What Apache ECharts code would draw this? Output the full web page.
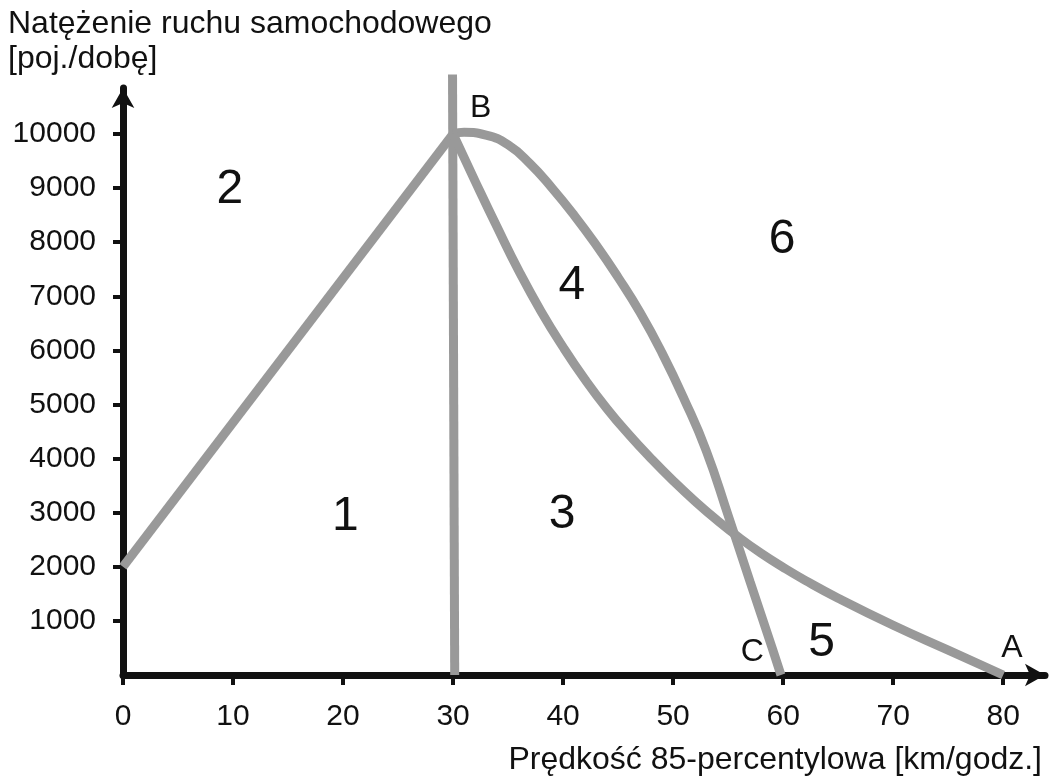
<!DOCTYPE html>
<html>
<head>
<meta charset="utf-8">
<script src="https://cdn.jsdelivr.net/npm/echarts@6/dist/echarts.min.js"></script>
<style>
  html, body { margin: 0; padding: 0; background: #fff; }
  #chart { width: 1050px; height: 780px; }
</style>
</head>
<body>
<div id="chart"></div>
<script>
// tick values
const xTicks = [0, 10, 20, 30, 40, 50, 60, 70, 80]
const yTicks = [1000, 2000, 3000, 4000, 5000, 6000, 7000, 8000, 9000, 10000]

// curves [speed, volume]
const lineLeft = [[0, 2000], [30, 10000]]
const lineVertical = [[30.15, 0], [29.95, 11100]]
const curveBC = [[30, 10000], [31, 10030], [33, 9980], [35, 9800], [37, 9450], [39, 9000], [41, 8500],
  [43, 7950], [45, 7350], [47, 6700], [49, 5950], [51, 5100], [53, 4150], [55, 2950], [57, 1720],
  [59, 500], [59.8, 0]]
const curveBA = [[30, 10000], [32, 9130], [34, 8280], [36, 7460], [38, 6720], [40, 6060], [42, 5460],
  [44, 4920], [46, 4440], [48, 4000], [50, 3590], [52, 3210], [54, 2860], [56, 2540], [58, 2250],
  [60, 1990], [62, 1750], [65, 1420], [70, 920], [75, 460], [80, 0]]

// region numbers and point letters
const regionNames = ['1', '2', '3', '4', '5', '6']
const regionPos = [[20.2, 2920], [9.7, 8965], [39.9, 2957], [40.8, 7190], [63.5, 591], [59.9, 8040]]
const pointNames = ['B', 'C', 'A']
const pointPos = [[32.5, 10480], [57.2, 425], [80.8, 499]]

const gray = '#999999'
const ink = '#111111'
const font = 'Liberation Sans, Arial, sans-serif'

let chart = echarts.init(document.getElementById('chart'))

function grayLine(data, smooth) {
  return {
    type: 'line',
    data: data,
    smooth: smooth,
    symbol: 'none',
    clip: false,
    lineStyle: {color: gray, width: 9, cap: 'butt'},
    z: 3
  }
}

// scatter defaults to 0.8 opacity, so force it back to 1 for the labels
function textSeries(names, pos, size) {
  return {
    type: 'scatter',
    symbolSize: 0,
    itemStyle: {color: ink, opacity: 1},
    data: names.map((n, i) => ({name: n, value: pos[i]})),
    label: {
      show: true,
      position: 'inside',
      formatter: '{b}',
      color: ink,
      opacity: 1,
      textBorderWidth: 0,
      fontFamily: font,
      fontSize: size
    },
    z: 4
  }
}

let option = {
  animation: false,
  backgroundColor: '#fff',
  grid: {left: 123, right: 5, top: 88, bottom: 105},
  xAxis: {
    type: 'value',
    min: 0,
    max: 83.8,
    splitLine: {show: false},
    axisLine: {
      show: true,
      lineStyle: {color: ink, width: 7},
      symbol: ['none', 'arrow'],
      symbolSize: [17, 20]
    },
    axisTick: {show: true, customValues: xTicks, length: 10, lineStyle: {color: ink, width: 4}},
    axisLabel: {customValues: xTicks, margin: 27, color: ink, fontFamily: font, fontSize: 30}
  },
  yAxis: {
    type: 'value',
    min: 0,
    max: 10850,
    splitLine: {show: false},
    axisLine: {
      show: true,
      lineStyle: {color: ink, width: 7},
      symbol: ['none', 'arrow'],
      symbolSize: [17, 20]
    },
    axisTick: {show: true, customValues: yTicks, length: 10, lineStyle: {color: ink, width: 4}},
    axisLabel: {
      customValues: yTicks, margin: 27, color: ink, fontFamily: font, fontSize: 30,
      formatter: v => String(v)
    }
  },
  graphic: [
    {type: 'text', left: 8, top: 8,
      style: {text: 'Natężenie ruchu samochodowego', fill: ink, font: '32px ' + font}},
    {type: 'text', left: 8, top: 43,
      style: {text: '[poj./dobę]', fill: ink, font: '32px ' + font}},
    {type: 'text', right: 8, top: 744,
      style: {text: 'Prędkość 85-percentylowa [km/godz.]', fill: ink, font: '32px ' + font}}
  ],
  series: [
    grayLine(lineLeft, false),
    grayLine(lineVertical, false),
    grayLine(curveBC, true),
    grayLine(curveBA, true),
    textSeries(regionNames, regionPos, 48),
    textSeries(pointNames, pointPos, 32)
  ]
}

chart.setOption(option)
</script>
</body>
</html>
